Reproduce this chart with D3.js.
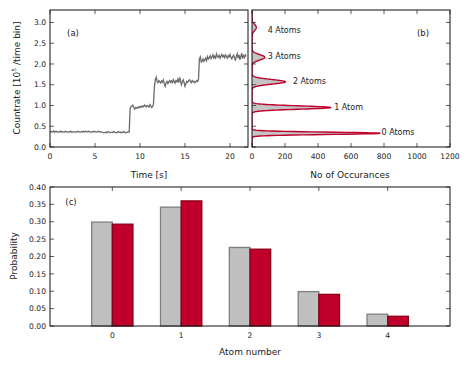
<!DOCTYPE html>
<html><head><meta charset="utf-8">
<script src="https://cdn.jsdelivr.net/npm/d3@7"></script>
<style>
body{margin:0;background:#fff;}
svg{display:block;}
text{font-family:"DejaVu Sans",sans-serif;fill:#222;}
</style></head>
<body><svg id="c" width="469" height="369"></svg>
<script>
// ---------- DATA ----------
const traceStart = 0, traceStep = 0.1; // seconds per time bin
const countrate = [
0.38,0.37,0.36,0.37,0.39,0.35,0.37,0.38,0.36,0.36,
0.37,0.36,0.38,0.36,0.37,0.36,0.36,0.38,0.37,0.36,
0.36,0.37,0.36,0.38,0.36,0.36,0.37,0.36,0.36,0.37,
0.36,0.38,0.37,0.36,0.36,0.37,0.36,0.38,0.36,0.37,
0.38,0.37,0.36,0.38,0.37,0.36,0.36,0.37,0.36,0.38,
0.37,0.36,0.36,0.37,0.38,0.36,0.37,0.36,0.36,0.35,
0.34,0.35,0.36,0.34,0.36,0.37,0.35,0.34,0.35,0.36,
0.35,0.37,0.36,0.35,0.34,0.36,0.37,0.35,0.36,0.34,
0.36,0.35,0.37,0.36,0.34,0.35,0.36,0.37,0.36,
0.92,0.97,0.99,1.01,0.95,0.91,0.95,0.93,0.96,0.94,
0.97,0.95,0.98,0.96,0.99,0.97,1.01,0.99,0.97,1.00,
0.98,0.96,1.02,0.99,0.95,0.97,1.04,
1.45,1.62,1.68,1.58,1.55,1.60,1.57,1.54,1.59,1.56,
1.61,1.52,1.46,1.55,1.58,1.53,1.57,1.60,1.56,1.59,
1.55,1.62,1.58,1.54,1.60,1.57,1.63,1.55,1.68,1.60,
1.50,1.57,1.62,1.55,1.46,1.53,1.58,1.56,1.60,1.62,
1.58,1.55,1.60,1.57,1.58,1.55,1.57,1.60,1.58,1.63,
2.12,2.17,2.05,2.07,2.12,2.06,2.10,2.14,2.08,2.18,
2.12,2.15,2.20,2.13,2.17,2.22,2.15,2.19,2.12,2.24,
2.18,2.16,2.21,2.14,2.19,2.23,2.17,2.20,2.15,2.22,
2.18,2.14,2.20,2.17,2.23,2.16,2.12,2.18,2.21,2.15,
2.08,2.19,2.25,2.14,2.22,2.10,2.18,2.26,2.13,2.20,
2.16,2.22,2.18
];
// fitted histogram (panel b): one peak per atom number
const peakLabels  = ["0 Atoms","1 Atom","2 Atoms","3 Atoms","4 Atoms"];
const peakCenters = [0.33, 0.95, 1.57, 2.16, 2.88];
const peakHeights = [776, 477, 202, 78, 26];
const peakWidths  = [0.028, 0.040, 0.055, 0.065, 0.075];
const labelX      = [785, 498, 248, 95, 95];       // occurrences
const labelY      = [0.28, 0.90, 1.51, 2.12, 2.74]; // countrate
// panel c
const atomNumbers = [0,1,2,3,4];
const probMeasured = [0.299, 0.342, 0.226, 0.099, 0.034];
const probPoisson  = [0.293, 0.360, 0.221, 0.091, 0.028];
const ticksA_x = [0,5,10,15,20];
const ticksA_y = [0,0.5,1,1.5,2,2.5,3];
const ticksB_x = [0,200,400,600,800,1000,1200];
const ticksC_y = [0,0.05,0.10,0.15,0.20,0.25,0.30,0.35,0.40];

// ---------- DRAW ----------
const svg = d3.select("#c");
const TL = 4, FS = 7.6;

function frame(g, x, y, xt, yt, xfmt, yfmt, showY){
  const [x0,x1] = x.range(), [y0,y1] = y.range();
  const ax = g.append("g").attr("class","ax");
  xt.forEach(v=>{
    ax.append("line").attr("x1",x(v)).attr("x2",x(v)).attr("y1",y0).attr("y2",y0-TL).attr("stroke","#333").attr("stroke-width",0.8);
    ax.append("line").attr("x1",x(v)).attr("x2",x(v)).attr("y1",y1).attr("y2",y1+TL).attr("stroke","#333").attr("stroke-width",0.8);
    if(xfmt) ax.append("text").attr("x",x(v)).attr("y",y0+12).attr("text-anchor","middle").attr("font-size",FS).text(xfmt(v));
  });
  yt.forEach(v=>{
    ax.append("line").attr("x1",x0).attr("x2",x0+TL).attr("y1",y(v)).attr("y2",y(v)).attr("stroke","#333").attr("stroke-width",0.8);
    ax.append("line").attr("x1",x1).attr("x2",x1-TL).attr("y1",y(v)).attr("y2",y(v)).attr("stroke","#333").attr("stroke-width",0.8);
    if(showY) ax.append("text").attr("x",x0-4).attr("y",y(v)).attr("dy","0.35em").attr("text-anchor","end").attr("font-size",FS).text(yfmt(v));
  });
  g.append("rect").attr("x",x0).attr("y",y1).attr("width",x1-x0).attr("height",y0-y1)
    .attr("fill","none").attr("stroke","#111").attr("stroke-width",1);
}

// Panel a
const xa = d3.scaleLinear().domain([0,22]).range([50,248]);
const ya = d3.scaleLinear().domain([0,3.3]).range([147,10]);
const ga = svg.append("g");
ga.append("path").datum(countrate)
  .attr("d", d3.line().x((d,i)=>xa(traceStart+i*traceStep)).y(d=>ya(d)))
  .attr("fill","none").attr("stroke","#6b6b6b").attr("stroke-width",1.3);
frame(ga, xa, ya, ticksA_x, ticksA_y, d3.format("d"), d3.format(".1f"), true);
ga.append("text").attr("x",73).attr("y",36).attr("text-anchor","middle").attr("font-size",8.5).text("(a)");
ga.append("text").attr("x",149).attr("y",178).attr("text-anchor","middle").attr("font-size",9).text("Time [s]");
const yl = ga.append("text").attr("transform","translate(20,78) rotate(-90)").attr("text-anchor","middle").attr("font-size",9);
yl.append("tspan").text("Countrate [10");
yl.append("tspan").attr("font-size",6).attr("dy",-4).text("5");
yl.append("tspan").attr("dy",4).text(" /time bin]");

// Panel b
const xb = d3.scaleLinear().domain([0,1200]).range([252,450]);
const yb = ya.copy();
const gb = svg.append("g");
const ys = d3.range(0, 3.3001, 0.004);
const fit = ys.map(v=>({y:v, n:d3.sum(peakCenters,(c,k)=>peakHeights[k]*Math.exp(-0.5*((v-c)/peakWidths[k])**2))}));
gb.append("clipPath").attr("id","cb").append("rect").attr("x",252).attr("y",10).attr("width",198).attr("height",137);
gb.append("path").datum(fit).attr("clip-path","url(#cb)")
  .attr("d", d3.area().y(d=>yb(d.y)).x0(xb(0)).x1(d=>xb(d.n*0.92)))
  .attr("fill","#c4c4c4");
gb.append("path").datum(fit).attr("clip-path","url(#cb)")
  .attr("d", d3.line().y(d=>yb(d.y)).x(d=>xb(d.n)))
  .attr("fill","none").attr("stroke","#c0002a").attr("stroke-width",1.4);
frame(gb, xb, yb, ticksB_x, ticksA_y, d3.format("d"), null, false);
peakLabels.forEach((t,i)=>{
  gb.append("text").attr("x",xb(labelX[i])).attr("y",yb(labelY[i])).attr("font-size",8).text(t);
});
gb.append("text").attr("x",423).attr("y",36).attr("text-anchor","middle").attr("font-size",8.5).text("(b)");
gb.append("text").attr("x",350).attr("y",178).attr("text-anchor","middle").attr("font-size",9).text("No of Occurances");

// Panel c
const xc = d3.scaleLinear().domain([-0.905,4.905]).range([50,450]);
const yc = d3.scaleLinear().domain([0,0.40]).range([326,187]);
const gc = svg.append("g");
const bw = 0.3;
gc.selectAll("rect.m").data(atomNumbers).join("rect").attr("class","m")
  .attr("x",d=>xc(d-bw)).attr("width",xc(bw)-xc(0)).attr("y",(d,i)=>yc(probMeasured[i]))
  .attr("height",(d,i)=>yc(0)-yc(probMeasured[i]))
  .attr("fill","#c0c0c0").attr("stroke","#7f7f7f").attr("stroke-width",1.3);
gc.selectAll("rect.p").data(atomNumbers).join("rect").attr("class","p")
  .attr("x",d=>xc(d)).attr("width",xc(bw)-xc(0)).attr("y",(d,i)=>yc(probPoisson[i]))
  .attr("height",(d,i)=>yc(0)-yc(probPoisson[i]))
  .attr("fill","#c0002a").attr("stroke","#8a0019").attr("stroke-width",1.3);
frame(gc, xc, yc, atomNumbers, ticksC_y, d3.format("d"), d3.format(".2f"), true);
gc.append("text").attr("x",71).attr("y",205).attr("text-anchor","middle").attr("font-size",8.5).text("(c)");
gc.append("text").attr("x",250).attr("y",355).attr("text-anchor","middle").attr("font-size",9).text("Atom number");
gc.append("text").attr("transform","translate(17,256) rotate(-90)").attr("text-anchor","middle").attr("font-size",9).text("Probability");
</script></body></html>
